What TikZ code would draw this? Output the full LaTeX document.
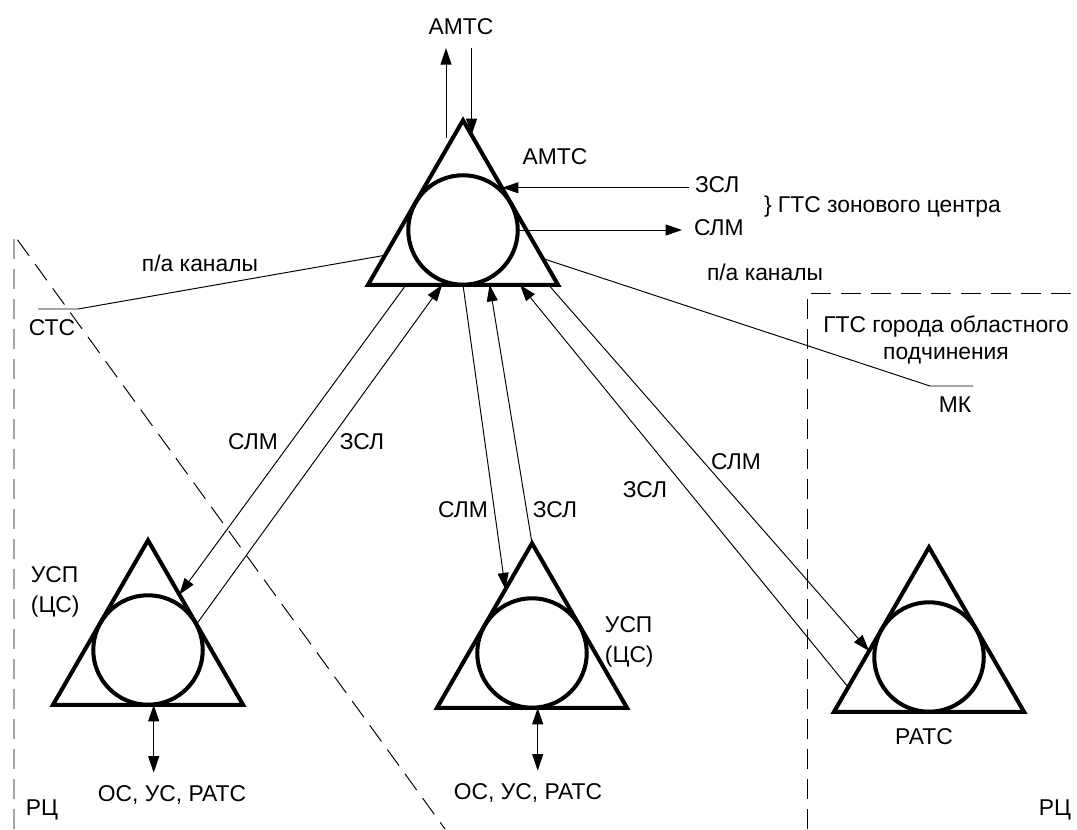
\documentclass[tikz,border=0pt]{standalone}
\usepackage{fontspec}
\setmainfont{Liberation Sans}
\usetikzlibrary{arrows.meta,calc,shapes.geometric}

\tikzset{
  station/.style={draw,line width=2.3pt,regular polygon,regular polygon sides=3,
    minimum size=4.39cm,inner sep=0pt,outer sep=0pt},
  ring/.style={draw,circle,line width=2.3pt,minimum size=2.19cm,inner sep=0pt,outer sep=0pt},
  lbl/.style={font=\fontsize{13}{15}\selectfont,inner sep=1.5pt},
  link/.style={line width=0.55pt},
  arr/.style={link,-{Triangle[length=0.33cm,width=0.22cm]}},
  dbl/.style={link,{Triangle[length=0.33cm,width=0.22cm]}-{Triangle[length=0.33cm,width=0.22cm]}},
  zone/.style={line width=0.55pt,dash pattern=on 0.4cm off 0.2cm}
}

\begin{document}
\begin{tikzpicture}[x=0.02cm,y=-0.02cm]
\useasboundingbox (0,0) rectangle (1077,829);

% stations
\node[station] (amts) at (463,230) {};
\node[station] (usp1) at (148,650) {};
\node[station] (usp2) at (532,653) {};
\node[station] (rats) at (929,657) {};
\foreach \s in {amts,usp1,usp2,rats}
  \node[ring] (ring-\s) at (\s) {};

% zones
\draw[zone] (14,829) -- (14,235) -- (445,829);
\draw[zone] (807,829) -- (807,293) -- (1077,293);

% labels
\node[lbl] (topamts) at (461,27) {АМТС};
\node[lbl] (lamts) at (555,157) {АМТС};
\node[lbl,anchor=west] (zsl0) at (692,185) {ЗСЛ};
\node[lbl,anchor=west] (slm0) at (691,228) {СЛМ};
\node[lbl,anchor=west] (gtszc) at (761,207) {\} ГТС зонового центра};
\node[lbl] (pa1) at (200,263) {п/а каналы};
\node[lbl] (pa2) at (765,272) {п/а каналы};
\node[lbl] (sts) at (52,328) {СТС};
\node[lbl] (mk) at (955,405) {МК};
\node[lbl,align=center,font=\fontsize{13}{15.2}\selectfont] (gtsobl) at (946,340)
  {ГТС города областного\\подчинения};
\node[lbl,align=left,anchor=west,font=\fontsize{13}{17}\selectfont] (usp1l) at (28,592) {УСП\\(ЦС)};
\node[lbl,align=left,anchor=west,font=\fontsize{13}{17}\selectfont] (usp2l) at (602,642) {УСП\\(ЦС)};
\node[lbl] (ratsl) at (924,737) {РАТС};
\node[lbl] (os1) at (172,795) {ОС, УС, РАТС};
\node[lbl] (os2) at (528,793) {ОС, УС, РАТС};
\node[lbl] (rc1) at (42,810) {РЦ};
\node[lbl] (rc2) at (1055,810) {РЦ};
\node[lbl] (slm1) at (253,442) {СЛМ};
\node[lbl] (zsl1) at (362,442) {ЗСЛ};
\node[lbl] (slm2) at (463,510) {СЛМ};
\node[lbl] (zsl2) at (555,510) {ЗСЛ};
\node[lbl] (zsl3) at (645,490) {ЗСЛ};
\node[lbl] (slm3) at (736,462) {СЛМ};

% АМТС above
\coordinate (amtsup) at (446,138);
\coordinate (amtsin) at ($(amts.corner 1)!0.09!(amts.corner 3)$);
\draw[arr] (amtsup) -- ([yshift=-0.2cm]topamts.south -| amtsup);
\draw[arr] ([yshift=-0.2cm]topamts.south -| amtsin) -- (amtsin);

% ГТС зонового центра
\coordinate (amtszsl) at ($(amts.corner 1)!0.41!(amts.corner 3)$);
\draw[arr] ([xshift=-0.06cm]zsl0.west |- amtszsl) -- (amtszsl);
\draw[arr] (ring-amts.east) -- ([xshift=-0.18cm]slm0.west |- ring-amts.east);

% п/а каналы
\coordinate (stsport) at (78,309);
\coordinate (mkport) at (930,386);
\draw[link] ($(amts.corner 1)!0.82!(amts.corner 2)$) -- (stsport) -- ++(-40,0);
\draw[link] ($(amts.corner 1)!0.84!(amts.corner 3)$) -- (mkport) -- ++(43,0);

% СЛМ / ЗСЛ
\draw[arr] ($(amts.corner 2)!0.2!(amts.corner 3)$) -- ($(usp1.corner 1)!0.33!(usp1.corner 3)$);
\draw[arr] ($(usp1.corner 1)!0.51!(usp1.corner 3)$) -- ($(amts.corner 2)!0.39!(amts.corner 3)$);
\draw[arr] ($(amts.corner 2)!0.5!(amts.corner 3)$) -- ($(usp2.corner 1)!0.28!(usp2.corner 2)$);
\draw[arr] (usp2.corner 1) -- ($(amts.corner 2)!0.64!(amts.corner 3)$);
\draw[arr] ($(rats.corner 1)!0.85!(rats.corner 2)$) -- ($(amts.corner 2)!0.8!(amts.corner 3)$);
\draw[arr] ($(amts.corner 2)!0.95!(amts.corner 3)$) -- ($(rats.corner 1)!0.63!(rats.corner 2)$);

% ОС, УС, РАТС
\coordinate (usp1port) at ($(usp1.corner 2)!0.53!(usp1.corner 3)$);
\coordinate (usp2port) at ($(usp2.corner 2)!0.53!(usp2.corner 3)$);
\draw[dbl] (usp1port) -- ([yshift=0.2cm]os1.north -| usp1port);
\draw[dbl] (usp2port) -- ([yshift=0.2cm]os2.north -| usp2port);
\end{tikzpicture}
\end{document}
